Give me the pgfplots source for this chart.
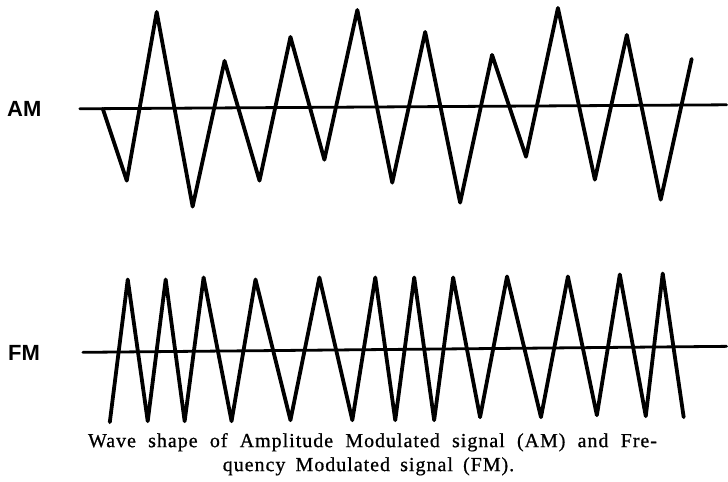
\documentclass[border=0pt]{standalone}
\usepackage{fontspec}
\setmainfont{Liberation Serif}
\newfontfamily\labelfont{Liberation Sans}
\newfontfamily\capfont[LetterSpace=5, FakeBold=0.8, WordSpace=1.8]{Liberation Serif}
\usepackage{pgfplots}
\pgfplotsset{compat=1.18}
\begin{document}
\begin{tikzpicture}
\begin{axis}[
  width=728pt, height=482pt, scale only axis,
  xmin=0, xmax=728, ymin=0, ymax=482, y dir=reverse,
  hide axis, clip=false,
]
\addplot[draw=none, forget plot] coordinates {(0,0) (728,482)};
% AM baseline and wave
\addplot[black, line width=2.8pt, line cap=round] coordinates {(80,109) (728,105)};
\addplot[black, line width=3.8pt, line cap=round, line join=round] coordinates {
 (103,109) (127,181) (157,12) (193,207) (225,61) (260,181) (291,37) (325,160)
 (358,10) (393,183) (426,32) (461,203) (493,55) (527,157) (559,8) (596,180)
 (628,35) (662,200) (693,59)};
% FM baseline and wave
\addplot[black, line width=2.8pt, line cap=round] coordinates {(83,353) (728,347)};
\addplot[black, line width=3.8pt, line cap=round, line join=round] coordinates {
 (110,423) (128,280) (148,422) (166,280) (185,422) (204,278) (232,422) (256,280)
 (291,421) (320,278) (353,421) (376,278) (396,421) (415,278) (435,421) (454,278)
 (481,418) (508,277) (542,418) (569,277) (598,416) (621,275) (647,417) (664,274)
 (685,418)};
\node[anchor=base west, inner sep=0pt, font=\labelfont\bfseries\fontsize{22}{24}\selectfont] at (axis cs:7,117) {AM};
\node[anchor=base west, inner sep=0pt, font=\labelfont\bfseries\fontsize{22}{24}\selectfont] at (axis cs:8,361) {FM};
\node[anchor=base west, inner sep=0pt, font=\capfont\fontsize{20}{24}\selectfont] at (axis cs:88,448)
  {\makebox[570pt][s]{Wave shape of Amplitude Modulated signal (AM) and Fre-}};
\node[anchor=base west, inner sep=0pt, font=\capfont\fontsize{20}{24}\selectfont] at (axis cs:223,472)
  {\makebox[292pt][s]{quency Modulated signal (FM).}};
\end{axis}
\end{tikzpicture}
\end{document}
